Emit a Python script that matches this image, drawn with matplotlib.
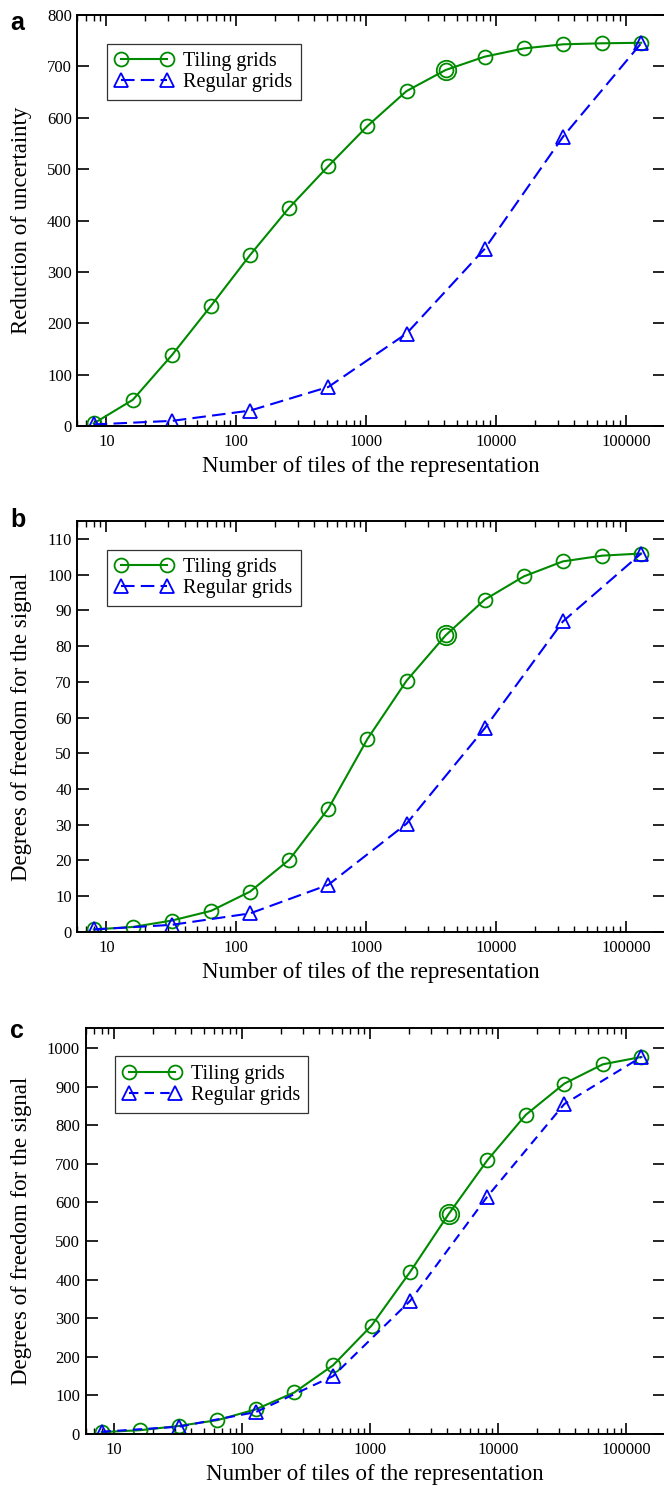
import numpy as np
import matplotlib
matplotlib.use("Agg")
import matplotlib.pyplot as plt
from matplotlib.ticker import LogLocator, NullFormatter

plt.rcParams['font.family'] = 'Liberation Serif'

# number of tiles of the representation
tiles_tiling = [8, 16, 32, 64, 128, 256, 512, 1024, 2048, 4096, 8192, 16384, 32768, 65536, 131072]
tiles_regular = [8, 32, 128, 512, 2048, 8192, 32768, 131072]
marked_tiles = 4096  # double circle

# panel a: reduction of uncertainty
a_tiling = [5, 51, 138, 234, 333, 425, 506, 584, 652, 693, 719, 735, 743, 745, 746]
a_regular = [3, 10, 30, 76, 180, 345, 563, 745]

# panel b: degrees of freedom for the signal
b_tiling = [0.7, 1.4, 3.2, 5.9, 11.3, 20.2, 34.5, 54, 70.3, 83, 93, 99.5, 103.7, 105.3, 105.9]
b_regular = [0.7, 2, 5.2, 13.2, 30.3, 57, 86.9, 105.9]

# panel c: degrees of freedom for the signal
c_tiling = [5, 10, 21, 36, 64, 108, 178, 281, 420, 570, 709, 827, 908, 958, 977]
c_regular = [6, 19, 57, 150, 345, 615, 855, 977]

xtick_vals = [10, 100, 1000, 10000, 100000]
xtick_labels = ['10', '100', '1000', '10000', '100000']

panels = [
    dict(letter='a', tiling=a_tiling, regular=a_regular, ylim=(0, 800),
         yticks=np.arange(0, 801, 100), ylabel='Reduction of uncertainty',
         rect=[0.1167, 0.7139, 0.8848, 0.2760], ylab_x=-0.077, letter_y=0.9799,
         dash=(6.5, 3)),
    dict(letter='b', tiling=b_tiling, regular=b_regular, ylim=(0, 115),
         yticks=np.arange(0, 111, 10), ylabel='Degrees of freedom for the signal',
         rect=[0.1167, 0.3741, 0.8848, 0.2760], ylab_x=-0.077, letter_y=0.6461,
         dash=(6.5, 3)),
    dict(letter='c', tiling=c_tiling, regular=c_regular, ylim=(0, 1052),
         yticks=np.arange(0, 1001, 100), ylabel='Degrees of freedom for the signal',
         rect=[0.1290, 0.0369, 0.8724, 0.2727], ylab_x=-0.0927, letter_y=0.3029,
         dash=(4.5, 3)),
]

green = '#008a00'
blue = '#0000ff'

fig = plt.figure(figsize=(6.64, 14.89), dpi=100)

for p in panels:
    ax = fig.add_axes(p['rect'])
    ax.plot(tiles_tiling, p['tiling'], color=green, lw=1.5, marker='o', ms=10,
            mfc='none', mec=green, mew=1.3, label='Tiling grids')
    ax.plot(tiles_regular, p['regular'], color=blue, lw=1.5, ls=(0, p['dash']),
            marker='^', ms=10, mfc='none', mec=blue, mew=1.3, label='Regular grids')
    # larger ring around the marked point
    y_mark = p['tiling'][tiles_tiling.index(marked_tiles)]
    ax.plot([marked_tiles], [y_mark], ls='none', marker='o', ms=14,
            mfc='none', mec=green, mew=1.3)

    ax.set_xscale('log')
    ax.set_xlim(6, 200000)
    ax.set_ylim(*p['ylim'])
    ax.set_xticks(xtick_vals)
    ax.set_xticklabels(xtick_labels)
    ax.xaxis.set_minor_locator(LogLocator(base=10, subs=np.arange(2, 10)))
    ax.xaxis.set_minor_formatter(NullFormatter())
    ax.set_yticks(p['yticks'])

    ax.tick_params(axis='x', which='major', direction='in', top=True, length=8,
                   width=1.2, labelsize=12, pad=6)
    ax.tick_params(axis='x', which='minor', direction='in', top=True, length=4.5,
                   width=1.0)
    ax.tick_params(axis='y', which='major', direction='in', right=True, length=8.5,
                   width=1.2, labelsize=12, pad=4)
    for s in ax.spines.values():
        s.set_linewidth(1.4)

    ax.set_xlabel('Number of tiles of the representation', fontsize=16.5, labelpad=4)
    ax.set_ylabel(p['ylabel'], fontsize=16.5)
    ax.yaxis.set_label_coords(p['ylab_x'], 0.5)

    leg = ax.legend(loc='upper left', bbox_to_anchor=(0.05, 0.93), borderaxespad=0,
                    fontsize=14.5, numpoints=2, handlelength=2.9, handletextpad=0.5,
                    borderpad=0.4, labelspacing=0.1, fancybox=False, framealpha=1)
    leg.get_frame().set_edgecolor('#333333')
    leg.get_frame().set_linewidth(0.9)

    fig.text(0.015, p['letter_y'], p['letter'], fontsize=18, fontweight='bold',
             family='Liberation Sans', va='baseline', ha='left')

fig.savefig('out.png', dpi=100)
